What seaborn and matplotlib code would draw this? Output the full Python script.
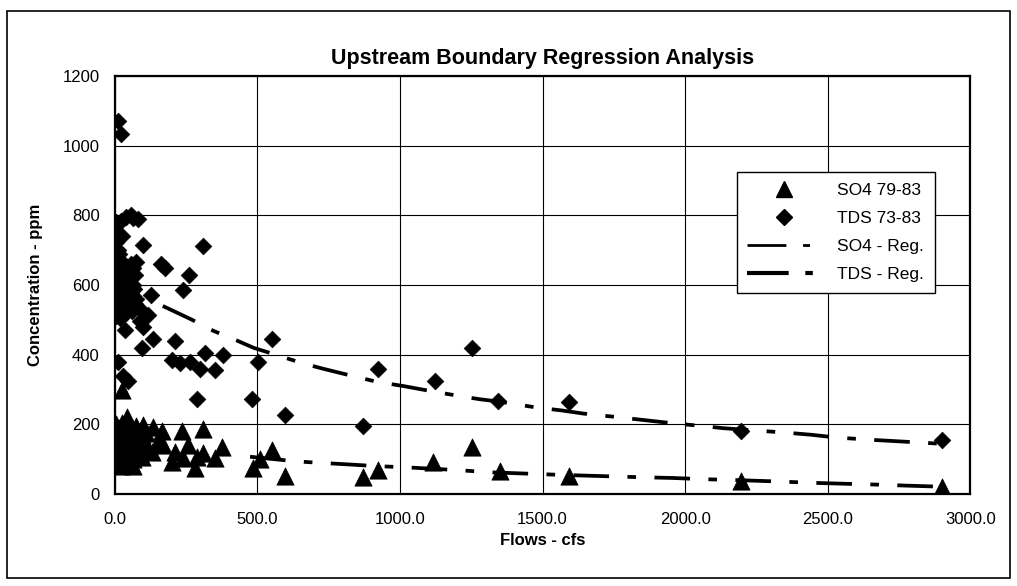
import numpy as np
import pandas as pd
import matplotlib
import matplotlib.pyplot as plt
import seaborn as sns
from matplotlib.lines import Line2D
from matplotlib.patches import Rectangle

matplotlib.use('Agg')

# TDS 73-83 samples (flow cfs, concentration ppm)
tds_flow = [12, 22,
            5, 20, 40, 55, 65, 80,
            8, 5, 10, 5, 15, 25,
            5, 15, 25, 35, 45, 55, 65, 75,
            5, 15, 25, 35, 45, 55, 65, 70,
            8, 18, 28, 38, 48, 58, 68,
            5, 15, 25, 35, 45, 55, 65, 75,
            10, 20, 30, 40, 50, 60, 70,
            5, 18,
            99, 310, 160, 175, 260, 240, 128, 88, 117, 88, 35, 99, 134, 210,
            94, 550, 12, 200, 228, 262, 316, 378, 298, 352, 503, 30, 45,
            287, 480, 596, 871, 924, 1123, 1252, 1345, 1591, 2196, 2900]
tds_conc = [1070, 1035,
            780, 785, 795, 800, 792, 790,
            750, 725, 700, 670, 690, 740,
            660, 650, 665, 655, 640, 660, 650, 665,
            625, 615, 630, 620, 610, 625, 600, 630,
            600, 590, 605, 585, 595, 580, 590,
            570, 560, 575, 555, 565, 550, 570, 560,
            540, 530, 545, 520, 535, 525, 545,
            510, 505,
            715, 712, 660, 650, 630, 585, 572, 530, 515, 497, 470, 480, 445, 438,
            420, 445, 380, 385, 375, 380, 405, 398, 360, 355, 380, 340, 325,
            272, 272, 228, 196, 360, 325, 420, 268, 265, 180, 155]

# SO4 79-83 samples
so4_flow = [41, 25,
            5, 15, 25, 35, 50, 60, 75, 90,
            5, 15, 25, 35, 45, 55, 65, 80, 95, 110,
            5, 15, 25, 35, 45, 55, 65, 75, 85, 100, 115,
            5, 15, 25, 35, 45, 55, 65, 80, 95,
            10, 20, 35, 50, 65,
            150, 170, 130,
            99, 134, 164, 234, 310, 257, 211, 374, 240, 287, 310, 281, 351, 199,
            485, 509, 550, 596, 871, 924, 1117, 1252, 1351, 1591, 2196, 2900]
so4_conc = [220, 300,
            200, 190, 205, 185, 200, 190, 195, 185,
            170, 160, 175, 165, 150, 170, 160, 165, 170, 175,
            140, 130, 145, 135, 125, 140, 130, 145, 135, 140, 130,
            110, 100, 115, 105, 95, 110, 100, 115, 105,
            85, 80, 90, 85, 80,
            150, 140, 120,
            198, 192, 182, 182, 188, 141, 122, 136, 103, 107, 117, 74, 103, 93,
            75, 100, 125, 52, 48, 68, 92, 134, 67, 53, 38, 20]

# regression curves
tds_reg_flow = [168, 269, 347, 430, 486, 556, 656, 729, 833, 920, 1012, 1105,
                1211, 1281, 1351, 1474, 1567, 1643, 1760, 1848, 1947, 2063,
                2134, 2357, 2444, 2532, 2667, 2754, 2842, 2900]
tds_reg_conc = [540, 501, 468, 440, 420, 402, 376, 360, 339, 322, 310, 296,
                281, 272, 265, 249, 240, 231, 221, 213, 204, 195,
                189, 176, 170, 162, 155, 151, 147, 144]
so4_reg_flow = [474, 632, 708, 818, 918, 1012, 1193, 1269, 1327, 1462, 1561,
                1643, 1766, 1853, 1958, 2047, 2175, 2251, 2357, 2450, 2579,
                2672, 2778, 2900]
so4_reg_conc = [107, 94, 90, 85, 80, 77, 69, 65, 62, 58, 55,
                53, 50, 48, 46, 43, 40, 38, 35, 32, 29,
                27, 24, 21]

x_ticks = [0, 500, 1000, 1500, 2000, 2500, 3000]
y_ticks = [0, 200, 400, 600, 800, 1000, 1200]

sns.set_style('white')
plt.rcParams['font.family'] = ['Liberation Sans', 'DejaVu Sans']
plt.rcParams['text.color'] = 'black'
plt.rcParams['axes.labelcolor'] = 'black'
plt.rcParams['xtick.color'] = 'black'
plt.rcParams['ytick.color'] = 'black'

tds = pd.DataFrame({'flow': tds_flow, 'conc': tds_conc})
so4 = pd.DataFrame({'flow': so4_flow, 'conc': so4_conc})
tds_reg = pd.DataFrame({'flow': tds_reg_flow, 'conc': tds_reg_conc})
so4_reg = pd.DataFrame({'flow': so4_reg_flow, 'conc': so4_reg_conc})

fig = plt.figure(figsize=(10.17, 5.86), dpi=100)
ax = fig.add_axes([0.113, 0.157, 0.841, 0.713])

# border around the whole chart
fig.patches.append(Rectangle((0.007, 0.014), 0.986, 0.968, transform=fig.transFigure,
                             fill=False, edgecolor='black', linewidth=1.2))

dash = (0, (9.5, 4.9, 2.3, 4.9))

sns.lineplot(data=tds_reg, x='flow', y='conc', ax=ax, color='black', linewidth=2.7,
             linestyle=dash, sort=False, zorder=2)
sns.lineplot(data=so4_reg, x='flow', y='conc', ax=ax, color='black', linewidth=2.7,
             linestyle=dash, sort=False, zorder=2)
sns.scatterplot(data=tds, x='flow', y='conc', ax=ax, marker='D', s=72, color='black',
                edgecolor='black', linewidth=0.5, zorder=3)
sns.scatterplot(data=so4, x='flow', y='conc', ax=ax, marker='^', s=155, color='black',
                edgecolor='black', linewidth=0.5, zorder=3)

ax.set_xlim(0, 3000)
ax.set_ylim(0, 1200)
ax.set_xticks(x_ticks)
ax.set_xticklabels([f'{v:.1f}' for v in x_ticks])
ax.set_yticks(y_ticks)
ax.grid(True, color='black', linewidth=0.8)
ax.set_axisbelow(True)
for s in ax.spines.values():
    s.set_color('black')
    s.set_linewidth(1.6)
ax.tick_params(axis='both', direction='out', length=5, width=1, color='black',
               labelsize=12, labelcolor='black', pad=6)
ax.tick_params(axis='x', pad=8)

ax.set_title('Upstream Boundary Regression Analysis', fontsize=15.5, fontweight='bold',
             pad=9, color='black')
ax.set_xlabel('Flows - cfs', fontsize=12, fontweight='bold', labelpad=4)
ax.set_ylabel('Concentration - ppm', fontsize=12, fontweight='bold', labelpad=14)

handles = [
    Line2D([], [], linestyle='none', marker='^', markersize=12, color='black'),
    Line2D([], [], linestyle='none', marker='D', markersize=8, color='black'),
    Line2D([], [], color='black', linewidth=2.0, linestyle=(0, (14, 6, 2.5, 6))),
    Line2D([], [], color='black', linewidth=3.0, linestyle=(0, (10, 4, 1.8, 4))),
]
labels = ['SO4 79-83', 'TDS 73-83', 'SO4 - Reg.', 'TDS - Reg.']
leg = ax.legend(handles, labels, loc='upper left', bbox_to_anchor=(0.727, 0.77),
                fontsize=12.5, frameon=True, fancybox=False, framealpha=1,
                edgecolor='black', handlelength=4.2, handletextpad=1.0,
                labelspacing=0.75, borderpad=0.6, borderaxespad=0)
leg.get_frame().set_linewidth(1.0)

fig.savefig('out.png', dpi=100)
